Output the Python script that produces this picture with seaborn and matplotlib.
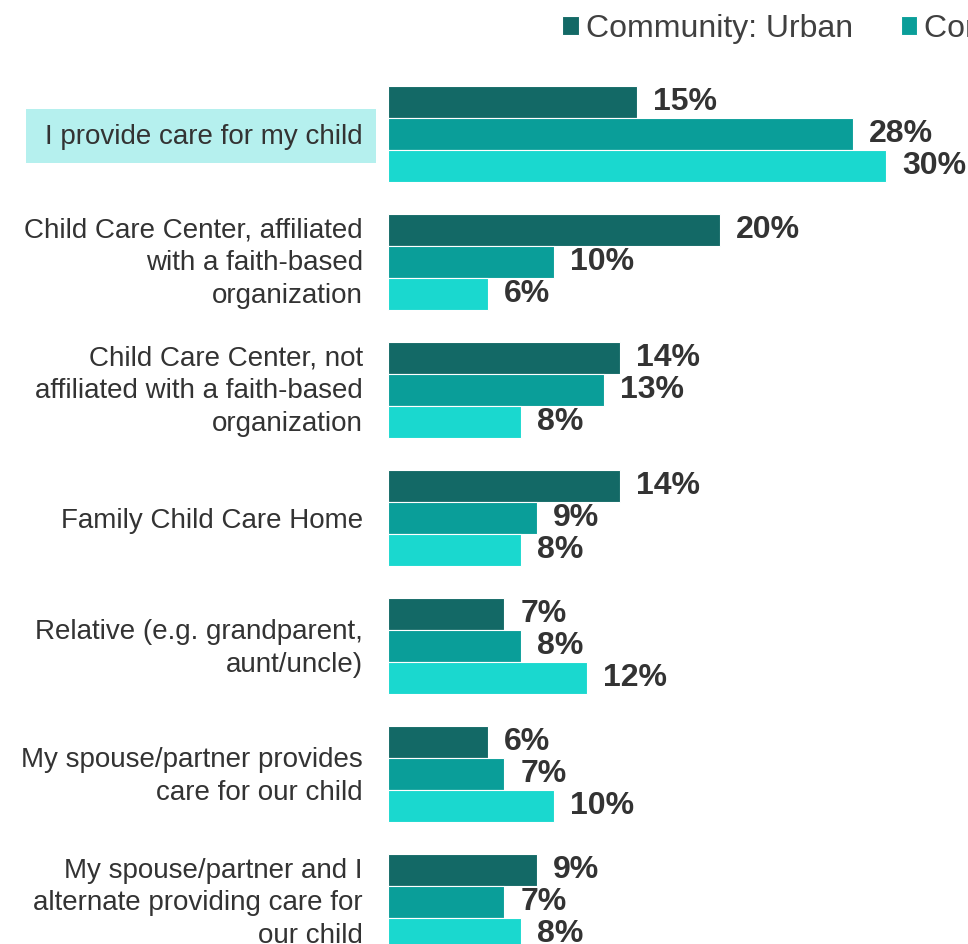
import matplotlib
matplotlib.use("Agg")
import matplotlib.pyplot as plt
from matplotlib.patches import Rectangle
from matplotlib.transforms import ScaledTranslation
import seaborn as sns
import pandas as pd

categories = [
    "I provide care for my child",
    "Child Care Center, affiliated\nwith a faith-based\norganization",
    "Child Care Center, not\naffiliated with a faith-based\norganization",
    "Family Child Care Home",
    "Relative (e.g. grandparent,\naunt/uncle)",
    "My spouse/partner provides\ncare for our child",
    "My spouse/partner and I\nalternate providing care for\nour child",
]
series_names = ["Community: Urban", "Community: Suburban", "Community: Rural"]
urban = [15, 20, 14, 14, 7, 6, 9]
suburban = [28, 10, 13, 9, 8, 7, 7]
rural = [30, 6, 8, 8, 12, 10, 8]
colors = ["#136966", "#0A9E99", "#1AD8CF"]

rows = []
for name, vals in zip(series_names, [urban, suburban, rural]):
    for c, v in zip(categories, vals):
        rows.append({"category": c, "value": v, "community": name})
df = pd.DataFrame(rows)

sns.set_theme(style="white")
plt.rcParams["font.family"] = ["Liberation Sans", "DejaVu Sans"]

W, H = 968, 944
fig = plt.figure(figsize=(W / 100, H / 100), dpi=100)
ax_left, ax_top = 388, 60
ax = fig.add_axes([ax_left / W, 0, (W - ax_left) / W, (H - ax_top) / H])

sns.barplot(data=df, y="category", x="value", hue="community", order=categories,
            hue_order=series_names, palette=colors, width=0.75, orient="h",
            edgecolor="white", linewidth=0.8, saturation=1, ax=ax)

px_per_unit = 128.0
center0 = 134
ax.set_ylim((H - center0) / px_per_unit, (ax_top - center0) / px_per_unit)
px_per_pct = 16.6
ax.set_xlim(0, (W - ax_left) / px_per_pct)

for cont in ax.containers:
    ax.bar_label(cont, labels=[f"{v:.0f}%" for v in cont.datavalues], padding=11.5,
                 fontsize=23, fontweight="bold", color="#333333")

handles, labels = ax.get_legend_handles_labels()
if ax.get_legend() is not None:
    ax.get_legend().remove()
fig.legend(handles, labels, loc="center left", bbox_to_anchor=(562 / W, 1 - 29 / H),
           ncol=3, frameon=False, fontsize=23, handlelength=0.52, handleheight=0.52,
           handletextpad=0.22, columnspacing=1.5, labelcolor="#404040",
           borderaxespad=0, borderpad=0)

ax.set_xlabel("")
ax.set_ylabel("")
ax.set_xticks([])
for s in ax.spines.values():
    s.set_visible(False)
ax.tick_params(axis="y", length=0, pad=18, labelsize=20, labelcolor="#333333")
for t in ax.get_yticklabels():
    t.set_linespacing(1.32)
    n = t.get_text().count("\n")
    if n:
        t.set_transform(t.get_transform() +
                        ScaledTranslation(0, (2 + 1.5 * n) / 100, fig.dpi_scale_trans))

fig.patches.append(Rectangle((26 / W, 1 - 163 / H), (376 - 26) / W, 54 / H,
                             transform=fig.transFigure, facecolor="#B5F0EE",
                             edgecolor="none", zorder=-1))

fig.savefig("out.png", dpi=100)
